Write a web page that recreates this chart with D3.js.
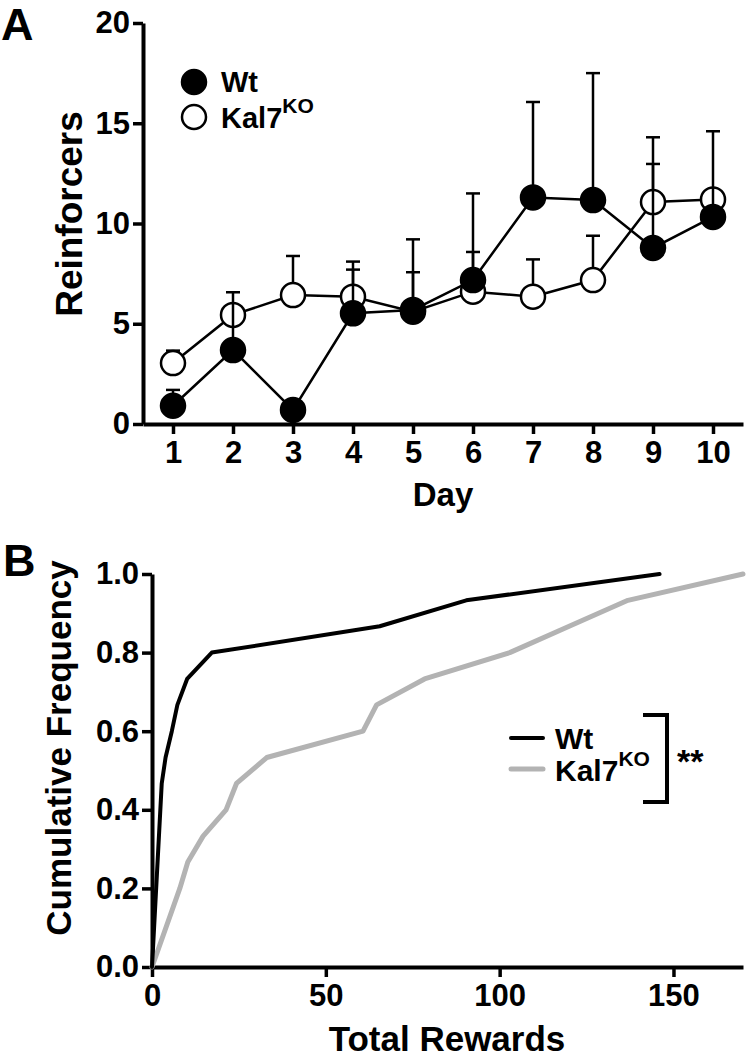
<!DOCTYPE html>
<html><head><meta charset="utf-8">
<script src="https://cdn.jsdelivr.net/npm/d3@7"></script>
<style>
body{margin:0;background:#fff}
svg{display:block}
text{font-family:"Liberation Sans",Arial,Helvetica,sans-serif;font-weight:bold;fill:#000}
</style>
</head><body>
<svg id="c" width="749" height="1061"></svg>
<script>
// ---- Panel A data ----
const days = [1,2,3,4,5,6,7,8,9,10];
const wtMean = [0.91,3.69,0.70,5.52,5.69,7.18,11.30,11.17,8.78,10.33];
const wtSem  = [0.79,2.88,0.30,2.58,3.52,4.32,4.76,6.33,4.19,4.27];
const koMean = [3.04,5.44,6.43,6.35,5.60,6.60,6.35,7.18,11.07,11.20];
const koSem  = [0.62,0.40,1.95,1.35,1.97,1.98,1.86,2.21,3.23,0.40];
const yTicksA = [0,5,10,15,20];
// ---- Panel B data ----
const wtRewards = [0,2.8,3.9,5.7,7.3,10.1,17.2,65.5,90.4,146];
const wtFreq    = [0,0.467,0.533,0.6,0.667,0.733,0.8,0.867,0.933,1.0];
const koRewards = [0,8,10.3,14.7,21.3,24.3,33,60.7,64.6,78.4,102.9,120,136.9,170];
const koFreq    = [0,0.2,0.267,0.333,0.4,0.467,0.533,0.6,0.667,0.733,0.8,0.867,0.933,1.0];
const xTicksB = [0,50,100,150];
const yTicksB = [0,0.2,0.4,0.6,0.8,1.0];
const seriesNames = ["Wt","Kal7"];

const svg = d3.select("#c");
const TICKFS = 31;

function styleAxis(g){
  g.select(".domain").attr("stroke","#000").attr("stroke-width",4);
  g.selectAll(".tick line").attr("stroke","#000").attr("stroke-width",3.5);
  g.selectAll(".tick text").attr("font-size",TICKFS).attr("font-family",'"Liberation Sans",Arial,sans-serif').attr("font-weight","bold").attr("fill","#000");
}

// ================= Panel A =================
const xA = d3.scaleLinear().domain([0.5,10.5]).range([143,743]);
const yA = d3.scaleLinear().domain([0,20]).range([424,23]);

svg.append("g").attr("transform","translate(0,424)")
  .call(d3.axisBottom(xA).tickValues(days).tickSize(10).tickSizeOuter(0).tickPadding(7))
  .call(styleAxis);
svg.append("g").attr("transform","translate(143,0)")
  .call(d3.axisLeft(yA).tickValues(yTicksA).tickSize(10).tickSizeOuter(0).tickPadding(3))
  .call(styleAxis);

function drawSeries(mean, sem, filled){
  const pts = days.map((d,i)=>({d, m:mean[i], s:sem[i]}));
  const g = svg.append("g");
  g.append("path").datum(pts)
    .attr("d", d3.line().x(p=>xA(p.d)).y(p=>yA(p.m)))
    .attr("fill","none").attr("stroke","#000").attr("stroke-width",2.5);
  const eb = g.selectAll(".eb").data(pts).enter().append("g");
  eb.append("line").attr("x1",p=>xA(p.d)).attr("x2",p=>xA(p.d))
    .attr("y1",p=>yA(p.m)).attr("y2",p=>yA(p.m+p.s))
    .attr("stroke","#000").attr("stroke-width",2.5);
  eb.append("line").attr("x1",p=>xA(p.d)-7).attr("x2",p=>xA(p.d)+7)
    .attr("y1",p=>yA(p.m+p.s)).attr("y2",p=>yA(p.m+p.s))
    .attr("stroke","#000").attr("stroke-width",2.5);
  g.selectAll("circle").data(pts).enter().append("circle")
    .attr("cx",p=>xA(p.d)).attr("cy",p=>yA(p.m)).attr("r",12)
    .attr("fill", filled ? "#000" : "#fff").attr("stroke","#000").attr("stroke-width",2.5);
}
drawSeries(koMean, koSem, false);
drawSeries(wtMean, wtSem, true);

// legend A
svg.append("circle").attr("cx",194).attr("cy",82).attr("r",12).attr("fill","#000").attr("stroke","#000").attr("stroke-width",2.5);
svg.append("circle").attr("cx",194).attr("cy",117).attr("r",12).attr("fill","#fff").attr("stroke","#000").attr("stroke-width",2.5);
svg.append("text").attr("x",221).attr("y",92).attr("font-size",29).text(seriesNames[0]);
const tA = svg.append("text").attr("x",221).attr("y",128).attr("font-size",29).text(seriesNames[1]);
tA.append("tspan").attr("dy",-15).attr("font-size",21).text("KO");

svg.append("text").attr("x",1).attr("y",40).attr("font-size",45).text("A");
svg.append("text").attr("x",443).attr("y",506).attr("text-anchor","middle").attr("font-size",33).text("Day");
svg.append("text").attr("transform","translate(82,214) rotate(-90)").attr("text-anchor","middle").attr("font-size",37).text("Reinforcers");

// ================= Panel B =================
const xB = d3.scaleLinear().domain([0,170]).range([152,743]);
const yB = d3.scaleLinear().domain([0,1]).range([967,574]);

svg.append("g").attr("transform","translate(0,967)")
  .call(d3.axisBottom(xB).tickValues(xTicksB).tickSize(10).tickSizeOuter(0).tickPadding(7).tickFormat(d3.format("d")))
  .call(styleAxis);
svg.append("g").attr("transform","translate(152,0)")
  .call(d3.axisLeft(yB).tickValues(yTicksB).tickSize(10).tickSizeOuter(0).tickPadding(3).tickFormat(d3.format(".1f")))
  .call(styleAxis);

const lineB = d3.line().x(p=>xB(p[0])).y(p=>yB(p[1]));
svg.append("path").datum(koRewards.map((r,i)=>[r,koFreq[i]]))
  .attr("d",lineB).attr("fill","none").attr("stroke","#b3b3b3").attr("stroke-width",5).attr("stroke-linecap","round").attr("stroke-linejoin","round");
svg.append("path").datum(wtRewards.map((r,i)=>[r,wtFreq[i]]))
  .attr("d",lineB).attr("fill","none").attr("stroke","#000").attr("stroke-width",4).attr("stroke-linecap","round").attr("stroke-linejoin","round");

// legend B
svg.append("line").attr("x1",511).attr("x2",543).attr("y1",738).attr("y2",738).attr("stroke","#000").attr("stroke-width",4).attr("stroke-linecap","round");
svg.append("line").attr("x1",511).attr("x2",543).attr("y1",769).attr("y2",769).attr("stroke","#b3b3b3").attr("stroke-width",5).attr("stroke-linecap","round");
svg.append("text").attr("x",555).attr("y",749).attr("font-size",30).text(seriesNames[0]);
const tB = svg.append("text").attr("x",555).attr("y",781).attr("font-size",30).text(seriesNames[1]);
tB.append("tspan").attr("dy",-15).attr("font-size",21).text("KO");
svg.append("path").attr("d","M643,715H667V802H643").attr("fill","none").attr("stroke","#000").attr("stroke-width",4);
svg.append("text").attr("x",677).attr("y",773).attr("font-size",34).text("**");

svg.append("text").attr("x",3).attr("y",576).attr("font-size",45).text("B");
svg.append("text").attr("x",447).attr("y",1051).attr("text-anchor","middle").attr("font-size",35).text("Total Rewards");
svg.append("text").attr("transform","translate(71,748) rotate(-90)").attr("text-anchor","middle").attr("font-size",35).text("Cumulative Frequency");
</script>
</body></html>
